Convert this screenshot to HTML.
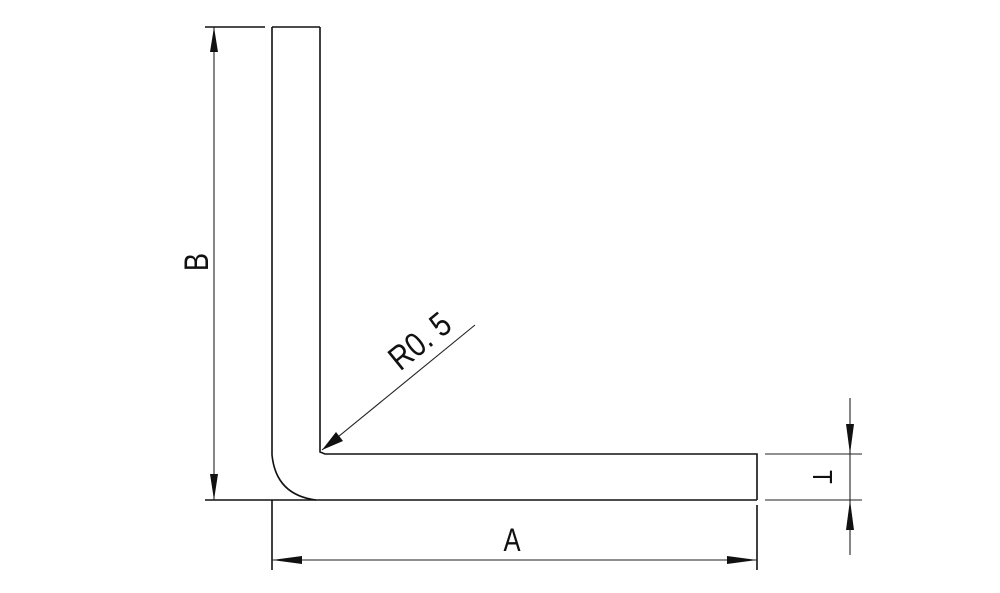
<!DOCTYPE html>
<html><head><style>body{margin:0;background:#fff}svg{display:block}</style></head><body>
<svg width="1000" height="593" xmlns="http://www.w3.org/2000/svg">
<rect width="1000" height="593" fill="#fff"/>
<g stroke="#111" stroke-width="1.6" fill="none">
<path d="M272 27 V455 Q276 495 316 500"/>
<line x1="272" y1="27" x2="320" y2="27"/>
<path d="M320 27 V452 L325 454 H757 V500"/>
<line x1="205" y1="500" x2="757" y2="500"/>
<line x1="205" y1="27" x2="265" y2="27"/>
<line x1="272" y1="500" x2="272" y2="570"/>
<line x1="757" y1="505" x2="757" y2="570"/>
</g>
<g stroke="#222" stroke-width="1.1" fill="none">
<line x1="214" y1="27" x2="214" y2="500"/>
<line x1="272" y1="560" x2="757" y2="560"/>
<line x1="765" y1="454" x2="862" y2="454"/>
<line x1="765" y1="500" x2="862" y2="500"/>
<line x1="850" y1="398" x2="850" y2="555"/>
<line x1="475" y1="325" x2="322" y2="450"/>
</g>
<g fill="#111">
<path d="M214 27 L210 52 H218 Z"/>
<path d="M214 500 L210 474 H218 Z"/>
<path d="M272 560 L302 556 V564 Z"/>
<path d="M757 560 L727 556 V564 Z"/>
<path d="M850 454 L846 424 H854 Z"/>
<path d="M850 500 L846 530 H854 Z"/>
<path d="M322 450 L336 432 L343 441 Z"/>
</g>
<g font-family="Liberation Sans, sans-serif" fill="#111" text-anchor="middle">
<text transform="translate(208,262) rotate(-90) scale(0.8,1)" font-size="34">B</text>
<text transform="translate(512,551) scale(0.8,1)" font-size="32">A</text>
<text transform="translate(813,477) rotate(90) scale(0.8,1)" font-size="28">T</text>
<text transform="translate(427,350) rotate(-39) scale(0.85,1)" font-size="34">R0. 5</text>
</g>
</svg>
</body></html>
